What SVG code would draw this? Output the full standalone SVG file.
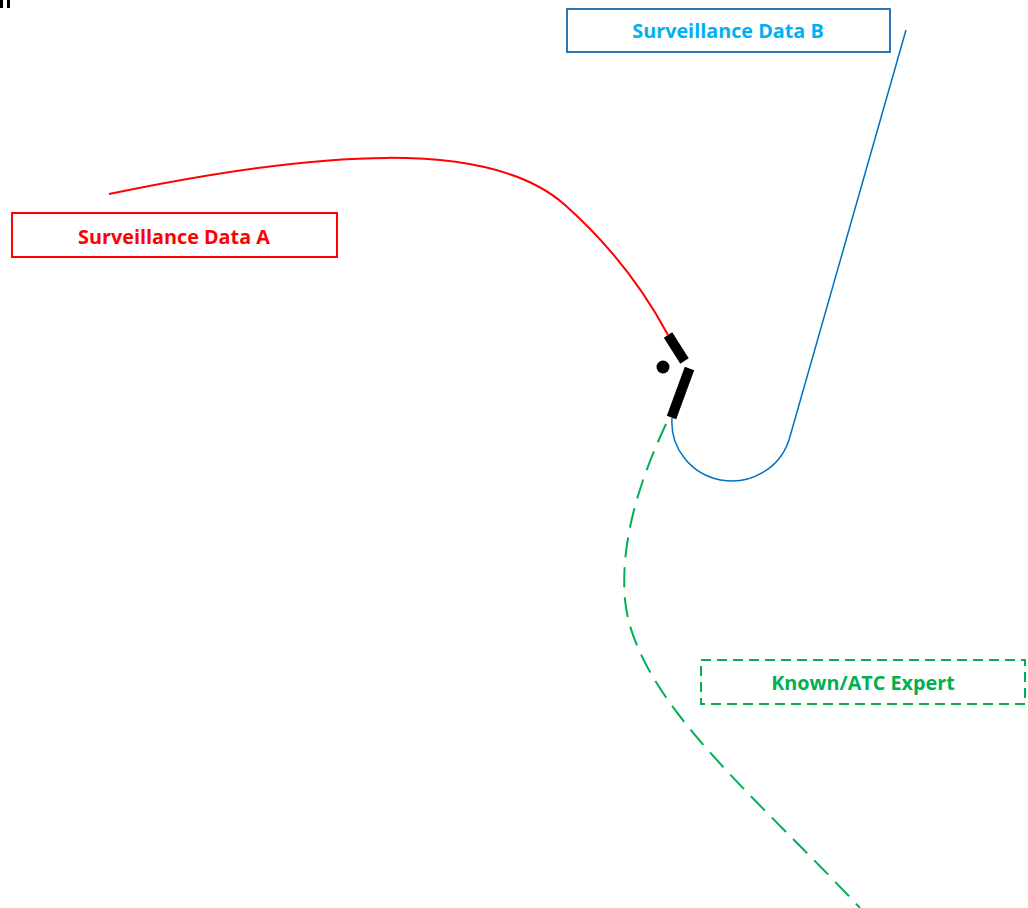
<svg xmlns="http://www.w3.org/2000/svg" width="1028" height="908" viewBox="0 0 1028 908">
<style>
.lbl{font-family:"Open Sans","Liberation Sans",sans-serif;font-weight:bold;font-size:19.8px;text-anchor:middle}
.box{fill:#fff;stroke-width:2}
</style>
<rect width="1028" height="908" fill="#fff"/>
<g id="corner-mark" fill="#000">
<rect x="0" y="0" width="3" height="8"/>
<rect x="7" y="0" width="3" height="8"/>
</g>
<g id="connectors" fill="none">
<path d="M109,194 C320,150 490,138 565,205 C610,245 645,292 668,335" stroke="#FF0000" stroke-width="2"/>
<path d="M906,30 L789,440 A60 59 0 0 1 672,418" stroke="#0070C0" stroke-width="1.5"/>
<path d="M666,424 C640,480 620,540 625,600 C635,700 760,800 860,908" stroke="#00B050" stroke-width="2" stroke-dasharray="20,10"/>
</g>
<g id="symbol">
<line x1="668" y1="335" x2="684.5" y2="361" stroke="#000" stroke-width="10"/>
<line x1="689.5" y1="368.5" x2="671.5" y2="417.5" stroke="#000" stroke-width="10"/>
<circle cx="663" cy="367" r="6.5" fill="#000"/>
</g>
<g id="node-b">
<rect class="box" x="567" y="9" width="323" height="43" stroke="#2E75B6"/>
<text class="lbl" x="728" y="38" fill="#00B0F0">Surveillance Data B</text>
</g>
<g id="node-a">
<rect class="box" x="12" y="213" width="325" height="44" stroke="#FF0000"/>
<text class="lbl" x="174" y="244" fill="#FF0000">Surveillance Data A</text>
</g>
<g id="node-expert">
<rect class="box" x="701" y="660" width="324" height="44" stroke="#00B050" stroke-dasharray="10,6"/>
<text class="lbl" x="863" y="690" fill="#00B050">Known/ATC Expert</text>
</g>
</svg>
